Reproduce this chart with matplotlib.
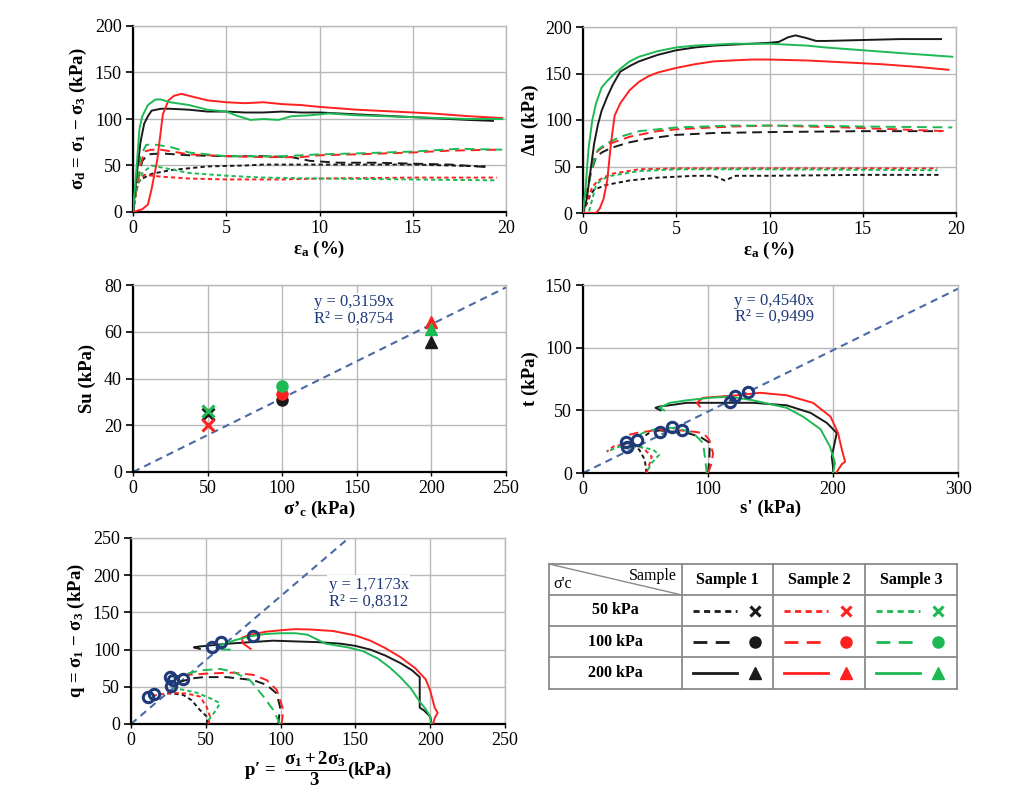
import numpy as np
import matplotlib
matplotlib.use('Agg')
import matplotlib.pyplot as plt

plt.rcParams['font.family'] = ['Liberation Serif', 'DejaVu Serif']
plt.rcParams['mathtext.fontset'] = 'custom'
plt.rcParams['mathtext.rm'] = 'Liberation Serif'
plt.rcParams['mathtext.it'] = 'Liberation Serif:italic'
plt.rcParams['mathtext.bf'] = 'Liberation Serif:bold'

# ---------------- colours / samples ----------------
samples = ['Sample 1', 'Sample 2', 'Sample 3']
colors = ['#1a1a1a', '#ff2020', '#1db954']
pressures = ['50 kPa', '100 kPa', '200 kPa']

# ---------------- deviator stress vs axial strain ----------------
dev_x_s1_200 = [0, 0.2, 0.4, 0.6, 0.8, 1.0, 1.5, 2, 3, 4, 5, 6, 7, 8, 9, 10, 12, 14, 16, 18, 19.3]
dev_y_s1_200 = [0, 40, 75, 95, 103, 109, 111, 111, 110, 108, 108, 107, 107, 108, 107, 107, 105, 103, 101, 99, 98]
dev_x_s2_200 = [0, 0.5, 0.8, 1.0, 1.3, 1.6, 1.9, 2.2, 2.6, 3, 4, 5, 6, 7, 8, 9, 10, 12, 14, 16, 18, 19.8]
dev_y_s2_200 = [0, 3, 8, 25, 56, 105, 120, 125, 127, 125, 120, 118, 117, 118, 116, 115, 113, 110, 108, 106, 103, 101]
dev_x_s3_200 = [0, 0.2, 0.35, 0.5, 0.8, 1.2, 1.5, 2, 3, 4, 5, 5.5, 6.3, 7, 7.8, 8.5, 9.5, 10.5, 12, 15, 18, 19.8]
dev_y_s3_200 = [0, 50, 90, 103, 115, 121, 121, 118, 115, 110, 108, 104, 99, 100, 99, 103, 104, 106, 104, 102, 100, 100]

dev_x_s1_100 = [0, 0.2, 0.5, 0.8, 1.5, 3, 5, 7, 8.5, 9.5, 11, 13, 15, 17, 19.2]
dev_y_s1_100 = [0, 30, 55, 62, 63, 61, 60, 60, 59, 55, 53, 53, 52, 51, 48]
dev_x_s2_100 = [0, 0.2, 0.4, 0.6, 1.0, 1.5, 3, 5, 7, 9, 10, 12, 15, 17, 19.5]
dev_y_s2_100 = [0, 25, 50, 65, 67, 67, 62, 60, 59, 59, 61, 62, 64, 66, 67]
dev_x_s3_100 = [0, 0.2, 0.4, 0.7, 1.0, 2, 3, 5, 8, 10, 12, 15, 17.5, 19.8]
dev_y_s3_100 = [0, 30, 60, 72, 73, 70, 64, 60, 60, 62, 63, 65, 68, 67]

dev_x_s1_50 = [0, 0.1, 0.3, 0.6, 1.0, 2, 4, 6, 7, 10, 15, 19]
dev_y_s1_50 = [0, 25, 33, 37, 41, 45, 49, 50, 51, 51, 51, 49]
dev_x_s2_50 = [0, 0.15, 0.3, 0.6, 1.5, 3, 5, 8, 10, 15, 19.5]
dev_y_s2_50 = [0, 20, 32, 40, 38, 36, 35, 35, 36, 37, 37]
dev_x_s3_50 = [0, 0.2, 0.5, 1.0, 2, 3, 5, 7, 10, 15, 19.5]
dev_y_s3_50 = [0, 25, 42, 50, 46, 42, 39, 37, 36, 35, 34]

# ---------------- pore pressure vs axial strain ----------------
pp_x_s1_200 = [0, 0.2, 0.4, 0.6, 0.8, 1.0, 1.3, 1.6, 2.0, 2.5, 3, 4, 5, 6, 7, 8, 9, 10, 10.5, 11, 11.4, 12, 12.5, 13, 15, 17, 19.2]
pp_y_s1_200 = [0, 15, 45, 75, 95, 110, 125, 138, 152, 158, 163, 170, 175, 178, 180, 181, 182, 183, 184, 189, 191, 188, 185, 185, 186, 187, 187]
pp_x_s2_200 = [0, 0.7, 0.9, 1.1, 1.3, 1.5, 1.7, 2.0, 2.5, 3, 3.5, 4, 5, 6, 7, 8, 9, 10, 12, 14, 16, 18, 19.6]
pp_y_s2_200 = [0, 0, 5, 15, 35, 75, 105, 118, 132, 141, 147, 151, 156, 160, 163, 164, 165, 165, 164, 162, 160, 157, 154]
pp_x_s3_200 = [0, 0.15, 0.3, 0.5, 0.7, 1.0, 1.3, 1.7, 2, 2.5, 3, 4, 5, 6, 7, 8, 9, 10, 11, 12, 13, 15, 17, 19.8]
pp_y_s3_200 = [0, 30, 70, 100, 118, 135, 142, 150, 155, 163, 168, 174, 178, 180, 181, 182, 182, 182, 181, 180, 178, 175, 172, 168]

pp_x_s1_100 = [0, 0.2, 0.4, 0.7, 1.0, 1.5, 2.5, 3.5, 5, 7, 10, 15, 19.2]
pp_y_s1_100 = [0, 20, 42, 60, 65, 70, 76, 80, 84, 86, 87, 88, 88]
pp_x_s2_100 = [0, 0.2, 0.4, 0.7, 1.0, 1.5, 2.5, 4, 5, 8, 10, 14, 19.5]
pp_y_s2_100 = [0, 22, 45, 65, 70, 75, 82, 88, 90, 93, 94, 92, 88]
pp_x_s3_100 = [0, 0.2, 0.5, 0.8, 1.2, 2, 3, 5, 8, 12, 15, 19.8]
pp_y_s3_100 = [0, 20, 50, 68, 74, 82, 88, 92, 94, 94, 93, 92]

pp_x_s1_50 = [0, 0.2, 0.4, 0.6, 1.2, 2.5, 4, 6, 7, 7.6, 8.2, 10, 15, 19.2]
pp_y_s1_50 = [0, 10, 20, 25, 30, 35, 38, 40, 40, 35, 40, 40, 41, 41]
pp_x_s2_50 = [0, 0.2, 0.5, 0.8, 1.5, 3, 5, 10, 19]
pp_y_s2_50 = [0, 12, 28, 35, 42, 47, 48, 48, 48]
pp_x_s3_50 = [0, 0.3, 0.5, 0.7, 1.0, 1.5, 3, 5, 10, 19]
pp_y_s3_50 = [0, 0, 15, 30, 36, 40, 45, 47, 47, 46]

# ---------------- Su vs consolidation pressure ----------------
su_sigma = [50, 100, 200]
su_s1 = [25, 31, 55.5]
su_s2 = [20, 33.5, 64]
su_s3 = [26, 37, 61]
su_slope = 0.3159
su_label = 'y = 0,3159x\nR² = 0,8754'

# ---------------- t - s' stress paths ----------------
ts_s_s1_200 = [200, 200, 199, 203, 195, 182, 163, 136, 110, 83, 69, 61, 58, 62]
ts_t_s1_200 = [0, 5, 13, 32, 40, 48, 54, 56, 56, 56, 54, 53, 52, 50]
ts_s_s2_200 = [202.5, 207, 209.7, 207, 204, 198, 184, 163, 141.6, 123, 109.5, 96, 91, 93.5]
ts_t_s2_200 = [0, 7, 9, 19, 32, 45, 56, 62, 64, 62, 61, 60, 56, 53]
ts_s_s3_200 = [200, 201.6, 197.6, 190, 176, 163, 136, 117.5, 101.5, 83, 69.5, 61, 65]
ts_t_s3_200 = [0, 8, 21, 35, 45, 52, 58, 61, 60, 58, 56, 52, 50]

ts_s_s1_100 = [100, 101, 101.5, 93.5, 83, 72, 61, 53, 50]
ts_t_s1_100 = [0, 10, 24, 29, 32, 33, 34, 32, 30]
ts_s_s2_100 = [100, 103, 104, 101, 96, 88, 77.5, 61, 43, 37]
ts_t_s2_100 = [0, 8, 16, 26.5, 32, 33, 34, 34.5, 32, 30.5]
ts_s_s3_100 = [99, 97.5, 96, 88, 75, 61, 48, 43]
ts_t_s3_100 = [0, 13, 24, 32, 36, 36, 32, 29]

ts_s_s1_50 = [50.8, 49.4, 45, 40, 35, 30]
ts_t_s1_50 = [0, 10.6, 18.6, 22.6, 24, 23]
ts_s_s2_50 = [50.8, 53, 55, 48, 37, 24, 19]
ts_t_s2_50 = [0, 6.6, 13, 20, 24, 21, 17]
ts_s_s3_50 = [52, 55, 61, 56, 45, 29, 19]
ts_t_s3_50 = [2.6, 8, 14.6, 18.6, 21, 21, 17]

ts_fail_s = [34, 35, 43, 61.4, 71, 79, 117.5, 121.5, 132]
ts_fail_t = [25, 20.7, 26.5, 32.4, 37, 34.5, 57, 61.6, 65]
ts_slope_drawn = 0.49
ts_label = 'y = 0,4540x\nR² = 0,9499'

# ---------------- q - p' stress paths ----------------
qp_p_s1_200 = [201, 200, 196, 193, 193, 193, 188, 180, 170, 160, 150, 140, 125, 110, 95, 80, 65, 55, 45, 42, 46]
qp_q_s1_200 = [0, 10, 18, 22, 45, 63, 72, 82, 92, 100, 105, 108, 110, 111, 112, 110, 108, 106, 104, 103, 101]
qp_p_s2_200 = [202, 203, 205, 203, 200, 197, 190, 180, 170, 160, 150, 135, 120, 110, 100, 90, 80, 74, 75, 80]
qp_q_s2_200 = [0, 8, 15, 22, 45, 60, 75, 90, 102, 112, 119, 125, 127, 127.5, 126, 124, 120, 116, 108, 101]
qp_p_s3_200 = [200.5, 200, 197, 193, 187, 180, 173, 165, 155, 145, 130, 118, 110, 100, 90, 80, 70, 60, 57, 62, 66]
qp_q_s3_200 = [0, 10, 20, 30, 48, 63, 76, 88, 98, 103, 108, 120, 122, 122, 121, 118, 113, 106, 103, 100, 100]

qp_p_s1_100 = [98.5, 99.6, 97.4, 90.7, 81.8, 64, 48.4, 41.7, 35, 29]
qp_q_s1_100 = [0, 23, 41, 52.5, 59, 63, 63, 61.5, 58, 55]
qp_p_s2_100 = [100.7, 101.8, 97.4, 90.7, 81.8, 68, 53, 37, 28]
qp_q_s2_100 = [0, 19, 46, 59, 66, 69, 68, 66, 64]
qp_p_s3_100 = [99.6, 95, 88.5, 79.5, 68, 59.5, 46, 35, 27]
qp_q_s3_100 = [0, 19, 37, 59, 70.5, 74, 72, 66, 62]

qp_p_s1_50 = [51, 50.6, 46, 40.5, 35, 28, 24]
qp_q_s1_50 = [0, 10, 19, 32, 39, 41, 41]
qp_p_s2_50 = [51.7, 52.8, 50.6, 46, 37, 26, 17, 14]
qp_q_s2_50 = [0, 10, 23, 37, 41, 42, 39, 37]
qp_p_s3_50 = [51.7, 57, 59.5, 53, 44, 35, 28]
qp_q_s3_50 = [5, 19, 28, 34.6, 42, 46, 48]

qp_fail_p = [11.6, 15.6, 26, 28, 26.5, 35, 54, 60, 81.8]
qp_fail_q = [36, 40, 63, 59, 51, 60, 104, 110, 118.5]
qp_slope = 1.7173
qp_label = 'y = 1,7173x\nR² = 0,8312'

# ---------------- styles ----------------
DASH = {'50': (0, (2.2, 1.6)), '100': (0, (5, 3)), '200': '-'}
LW = {'50': 1.4, '100': 1.4, '200': 1.4}
TREND_C = '#4a6aa5'
TEXT_C = '#1f3a78'
GRID_C = '#b8b8b8'
TICK_FS = 13
LAB_FS = 13.5

fig = plt.figure(figsize=(10.24, 7.96), dpi=100)


def style_axes(ax, xlim, ylim, xticks, yticks):
    ax.set_xlim(*xlim)
    ax.set_ylim(*ylim)
    ax.set_xticks(xticks)
    ax.set_yticks(yticks)
    ax.grid(True, color=GRID_C, lw=1)
    ax.set_axisbelow(True)
    for s in ['top', 'right']:
        ax.spines[s].set_color(GRID_C)
        ax.spines[s].set_linewidth(1)
    for s in ['left', 'bottom']:
        ax.spines[s].set_color('black')
        ax.spines[s].set_linewidth(1.6)
    ax.tick_params(axis='y', direction='out', length=5, width=1.2, labelsize=TICK_FS, pad=3)
    ax.tick_params(axis='x', direction='out', length=3, width=1.0, labelsize=TICK_FS, pad=3)


def plot_set(ax, series):
    for (xs, ys, ci, key) in series:
        ax.plot(xs, ys, color=colors[ci], ls=DASH[key], lw=LW[key], zorder=3)


BOX = dict(facecolor='white', edgecolor='none', pad=1)

# ---- panel 1: deviator stress ----
ax1 = fig.add_axes([133 / 1024, 1 - 212 / 796, 373 / 1024, 186 / 796])
style_axes(ax1, (0, 20), (0, 200), [0, 5, 10, 15, 20], [0, 50, 100, 150, 200])
plot_set(ax1, [
    (dev_x_s1_50, dev_y_s1_50, 0, '50'), (dev_x_s2_50, dev_y_s2_50, 1, '50'), (dev_x_s3_50, dev_y_s3_50, 2, '50'),
    (dev_x_s1_100, dev_y_s1_100, 0, '100'), (dev_x_s2_100, dev_y_s2_100, 1, '100'), (dev_x_s3_100, dev_y_s3_100, 2, '100'),
    (dev_x_s1_200, dev_y_s1_200, 0, '200'), (dev_x_s2_200, dev_y_s2_200, 1, '200'), (dev_x_s3_200, dev_y_s3_200, 2, '200'),
])
ax1.set_xlabel(r'ε$_\mathbf{a}$ (%)', fontsize=LAB_FS, fontweight='bold', labelpad=1)
ax1.set_ylabel(r'σ$_\mathbf{d}$ = σ$_\mathbf{1}$ − σ$_\mathbf{3}$ (kPa)', fontsize=LAB_FS, fontweight='bold', labelpad=4)

# ---- panel 2: pore pressure ----
ax2 = fig.add_axes([583 / 1024, 1 - 213 / 796, 373 / 1024, 186 / 796])
style_axes(ax2, (0, 20), (0, 200), [0, 5, 10, 15, 20], [0, 50, 100, 150, 200])
plot_set(ax2, [
    (pp_x_s1_50, pp_y_s1_50, 0, '50'), (pp_x_s2_50, pp_y_s2_50, 1, '50'), (pp_x_s3_50, pp_y_s3_50, 2, '50'),
    (pp_x_s1_100, pp_y_s1_100, 0, '100'), (pp_x_s2_100, pp_y_s2_100, 1, '100'), (pp_x_s3_100, pp_y_s3_100, 2, '100'),
    (pp_x_s1_200, pp_y_s1_200, 0, '200'), (pp_x_s2_200, pp_y_s2_200, 1, '200'), (pp_x_s3_200, pp_y_s3_200, 2, '200'),
])
ax2.set_xlabel(r'ε$_\mathbf{a}$ (%)', fontsize=LAB_FS, fontweight='bold', labelpad=1)
ax2.set_ylabel('Δu (kPa)', fontsize=LAB_FS, fontweight='bold', labelpad=4)

# ---- panel 3: Su ----
ax3 = fig.add_axes([133 / 1024, 1 - 472 / 796, 373 / 1024, 187 / 796])
style_axes(ax3, (0, 250), (0, 80), [0, 50, 100, 150, 200, 250], [0, 20, 40, 60, 80])
xt = np.array([0, 250])
ax3.plot(xt, su_slope * xt, color=TREND_C, ls=(0, (3.5, 2.5)), lw=1.5, zorder=2)
su_markers = ['x', 'o', '^']
for ci, vals in enumerate([su_s1, su_s2, su_s3]):
    for k in range(3):
        m = su_markers[k]
        if m == 'x':
            ax3.plot(su_sigma[k], vals[k], marker='x', ms=9, mew=2.2, color=colors[ci], ls='none', zorder=4)
        else:
            ax3.plot(su_sigma[k], vals[k], marker=m, ms=8, color=colors[ci], ls='none', zorder=4)
ax3.text(148, 69, su_label, color=TEXT_C, fontsize=12, ha='center', va='center', linespacing=1.05, bbox=BOX)
ax3.set_xlabel(r'σ’$_\mathbf{c}$ (kPa)', fontsize=LAB_FS, fontweight='bold', labelpad=1)
ax3.set_ylabel('Su (kPa)', fontsize=LAB_FS, fontweight='bold', labelpad=6)

# ---- panel 4: t - s' ----
ax4 = fig.add_axes([583 / 1024, 1 - 473 / 796, 375 / 1024, 188 / 796])
style_axes(ax4, (0, 300), (0, 150), [0, 100, 200, 300], [0, 50, 100, 150])
xt = np.array([0, 300])
ax4.plot(xt, ts_slope_drawn * xt, color=TREND_C, ls=(0, (3.5, 2.5)), lw=1.5, zorder=2)
plot_set(ax4, [
    (ts_s_s1_50, ts_t_s1_50, 0, '50'), (ts_s_s2_50, ts_t_s2_50, 1, '50'), (ts_s_s3_50, ts_t_s3_50, 2, '50'),
    (ts_s_s1_100, ts_t_s1_100, 0, '100'), (ts_s_s2_100, ts_t_s2_100, 1, '100'), (ts_s_s3_100, ts_t_s3_100, 2, '100'),
    (ts_s_s1_200, ts_t_s1_200, 0, '200'), (ts_s_s2_200, ts_t_s2_200, 1, '200'), (ts_s_s3_200, ts_t_s3_200, 2, '200'),
])
ax4.plot(ts_fail_s, ts_fail_t, ls='none', marker='o', ms=7.5, mfc='none', mec=TEXT_C, mew=2.2, zorder=5)
ax4.text(153, 131, ts_label, color=TEXT_C, fontsize=12, ha='center', va='center', linespacing=1.05)
ax4.set_xlabel("s' (kPa)", fontsize=LAB_FS, fontweight='bold', labelpad=1)
ax4.set_ylabel('t (kPa)', fontsize=LAB_FS, fontweight='bold', labelpad=4)

# ---- panel 5: q - p' ----
ax5 = fig.add_axes([131 / 1024, 1 - 724 / 796, 374 / 1024, 186 / 796])
style_axes(ax5, (0, 250), (0, 250), [0, 50, 100, 150, 200, 250], [0, 50, 100, 150, 200, 250])
xt = np.array([0, 250])
ax5.plot(xt, qp_slope * xt, color=TREND_C, ls=(0, (3.5, 2.5)), lw=1.5, zorder=2)
plot_set(ax5, [
    (qp_p_s1_50, qp_q_s1_50, 0, '50'), (qp_p_s2_50, qp_q_s2_50, 1, '50'), (qp_p_s3_50, qp_q_s3_50, 2, '50'),
    (qp_p_s1_100, qp_q_s1_100, 0, '100'), (qp_p_s2_100, qp_q_s2_100, 1, '100'), (qp_p_s3_100, qp_q_s3_100, 2, '100'),
    (qp_p_s1_200, qp_q_s1_200, 0, '200'), (qp_p_s2_200, qp_q_s2_200, 1, '200'), (qp_p_s3_200, qp_q_s3_200, 2, '200'),
])
ax5.plot(qp_fail_p, qp_fail_q, ls='none', marker='o', ms=7.5, mfc='none', mec=TEXT_C, mew=2.2, zorder=5)
ax5.text(159, 176, qp_label, color=TEXT_C, fontsize=12, ha='center', va='center', linespacing=1.05, bbox=BOX)
ax5.set_xlabel(r"p′ =  $\mathbf{\dfrac{σ_1+2σ_3}{3}}$(kPa)", fontsize=LAB_FS, fontweight='bold', labelpad=0)
ax5.set_ylabel(r'q = $\mathbf{σ_1}$ − $\mathbf{σ_3}$ (kPa)', fontsize=LAB_FS, fontweight='bold', labelpad=4)

# ---- legend table ----
axt = fig.add_axes([549 / 1024, 1 - 689 / 796, 408 / 1024, 125 / 796])
axt.set_xlim(0, 408)
axt.set_ylim(125, 0)
axt.axis('off')
col_edges = [0, 133, 224, 316, 408]
row_edges = [0, 31, 62, 93, 125]
TB_C = '#8a8a8a'
for x in col_edges:
    axt.plot([x, x], [0, 125], color=TB_C, lw=1.3, clip_on=False)
for y in row_edges:
    axt.plot([0, 408], [y, y], color=TB_C, lw=1.3, clip_on=False)
axt.plot([0, 133], [0, 31], color=TB_C, lw=1.0)
axt.text(128, 4, 'Sample', fontsize=11.5, ha='right', va='top')
axt.text(4, 28, "σ'c", fontsize=11.5, ha='left', va='bottom')
for j, name in enumerate(samples):
    cx = (col_edges[j + 1] + col_edges[j + 2]) / 2
    axt.text(cx, 15.5, name, fontsize=11.5, fontweight='bold', ha='center', va='center')
leg_markers = ['x', 'o', '^']
leg_keys = ['50', '100', '200']
for i, lab in enumerate(pressures):
    cy = (row_edges[i + 1] + row_edges[i + 2]) / 2
    axt.text(66.5, cy, lab, fontsize=11.5, fontweight='bold', ha='center', va='center')
    for j in range(3):
        x0 = col_edges[j + 1]
        axt.plot([x0 + 11, x0 + 55], [cy, cy], color=colors[j], ls=DASH[leg_keys[i]], lw=2.0)
        if leg_markers[i] == 'x':
            axt.plot(x0 + 73, cy, marker='x', ms=7, mew=2.2, color=colors[j])
        else:
            axt.plot(x0 + 73, cy, marker=leg_markers[i], ms=8, color=colors[j])

fig.savefig('out.png', dpi=100)
